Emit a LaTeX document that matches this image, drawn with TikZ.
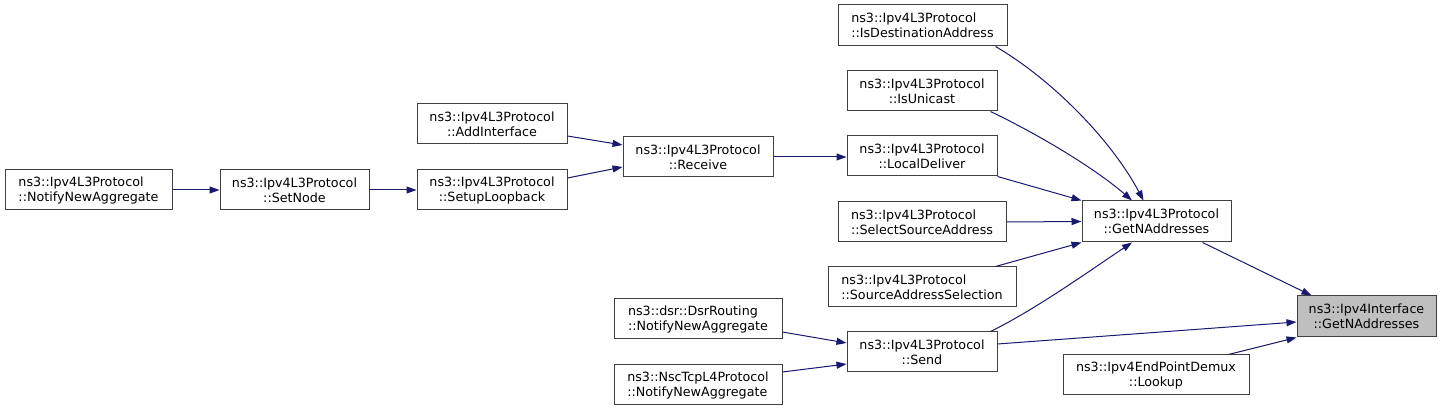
\documentclass[tikz,border=0pt]{standalone}
\usepackage{fontspec}
\setmainfont{DejaVu Sans}
\usetikzlibrary{arrows.meta,calc}
\definecolor{edgeblue}{HTML}{191970}
\definecolor{boxborder}{HTML}{404040}
\definecolor{hilite}{HTML}{BFBFBF}
\begin{document}
\begin{tikzpicture}[x=1pt,y=-1pt,
  fn/.style={draw=boxborder,line width=1pt,fill=white,inner sep=0pt,minimum height=40pt,
    font=\fontsize{12.7}{15}\selectfont,align=center},
  fnl/.style={fn,align=left},
  edge/.style={draw=edgeblue,line width=1pt,-{Triangle[length=10pt,width=7pt]}}]
\useasboundingbox (0,0) rectangle (1441,411);
% nodes
\node[fnl,minimum width=167pt] (nna) at (88.5,190) {ns3::Ipv4L3Protocol\\::NotifyNewAggregate};
\node[fn,minimum width=149pt] (setnode) at (294.5,190) {ns3::Ipv4L3Protocol\\::SetNode};
\node[fn,minimum width=150pt] (setup) at (492,190) {ns3::Ipv4L3Protocol\\::SetupLoopback};
\node[fn,minimum width=150pt] (addif) at (492,124) {ns3::Ipv4L3Protocol\\::AddInterface};
\node[fn,minimum width=150pt] (recv) at (698,157) {ns3::Ipv4L3Protocol\\::Receive};
\node[fnl,minimum width=169pt,minimum height=41pt] (isdest) at (922.5,25.5) {ns3::Ipv4L3Protocol\\::IsDestinationAddress};
\node[fn,minimum width=150pt] (isuni) at (922,91) {ns3::Ipv4L3Protocol\\::IsUnicast};
\node[fn,minimum width=150pt] (local) at (922,156) {ns3::Ipv4L3Protocol\\::LocalDeliver};
\node[fnl,minimum width=168pt] (selsrc) at (922,222) {ns3::Ipv4L3Protocol\\::SelectSourceAddress};
\node[fnl,minimum width=188pt] (srcsel) at (922,287) {ns3::Ipv4L3Protocol\\::SourceAddressSelection};
\node[fn,minimum width=149pt,minimum height=41pt] (getn) at (1156.5,221.5) {ns3::Ipv4L3Protocol\\::GetNAddresses};
\node[fnl,minimum width=168pt] (dsr) at (698,319) {ns3::dsr::DsrRouting\\::NotifyNewAggregate};
\node[fnl,minimum width=168pt] (nsc) at (698,385) {ns3::NscTcpL4Protocol\\::NotifyNewAggregate};
\node[fn,minimum width=150pt] (send) at (922,352) {ns3::Ipv4L3Protocol\\::Send};
\node[fn,fill=hilite,minimum width=139pt,minimum height=41pt] (iface) at (1366.5,316.5) {ns3::Ipv4Interface\\::GetNAddresses};
\node[fn,minimum width=186pt] (lookup) at (1156,375) {ns3::Ipv4EndPointDemux\\::Lookup};
% edges
\draw[edge] (nna.east) -- (setnode.west);
\draw[edge] (setnode.east) -- (setup.west);
\draw[edge] ($(setup.east)+(0,-12)$) -- ($(recv.west)+(0,10)$);
\draw[edge] ($(addif.east)+(0,12)$) -- ($(recv.west)+(0,-12)$);
\draw[edge] (recv.east) -- (local.west |- recv.east);
\draw[edge] ($(isdest.south east)+(-12,0)$) .. controls +(55,32) and +(-33,-62) .. ($(getn.north)+(-13,0)$);
\draw[edge] ($(isuni.south east)+(-7,0)$) .. controls +(50,24) and +(-37,-32) .. ($(getn.north)+(-24.5,0)$);
\draw[edge] (local.south east) -- (getn.north west);
\draw[edge] (selsrc.east) -- (getn.west);
\draw[edge] ($(srcsel.north east)+(-21,0)$) -- (getn.south west);
\draw[edge] ($(send.north east)+(-7,0)$) .. controls +(45,-22) and +(-42,28) .. ($(getn.south)+(-24.5,0)$);
\draw[edge] ($(getn.south east)+(-29,0)$) -- ($(iface.north west)+(15,0)$);
\draw[edge] ($(send.east)+(0,-8)$) -- ($(iface.west)+(0,5.5)$);
\draw[edge] ($(lookup.north east)+(-21,0)$) -- (iface.south west);
\draw[edge] ($(dsr.east)+(0,13)$) -- ($(send.west)+(0,-9)$);
\draw[edge] ($(nsc.east)+(0,-13)$) -- ($(send.west)+(0,12)$);
\end{tikzpicture}
\end{document}
